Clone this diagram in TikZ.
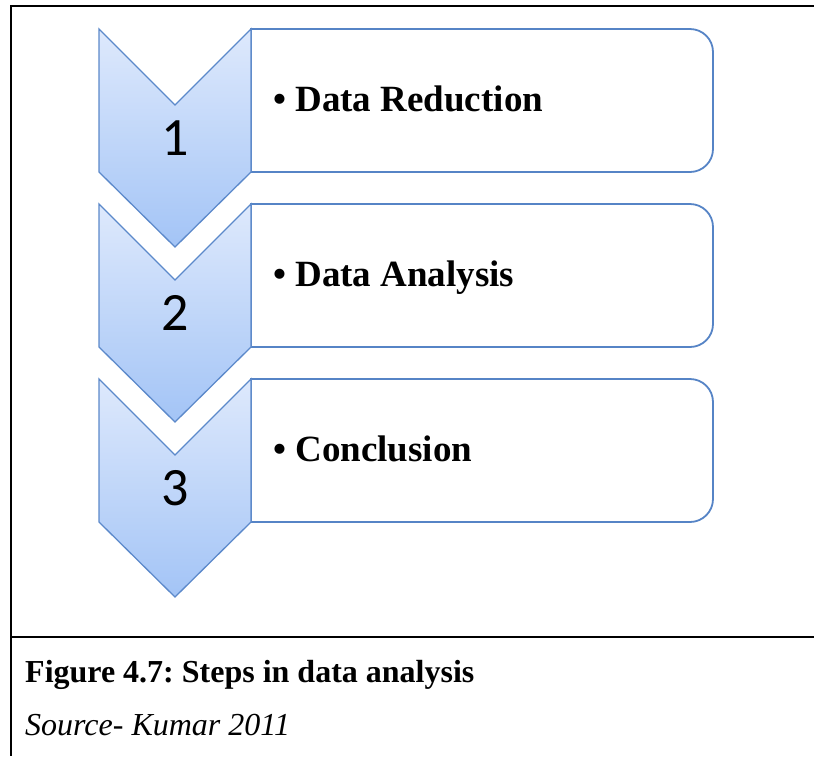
\documentclass[tikz,border=0pt]{standalone}
\usepackage{fontspec}
\setmainfont{Liberation Serif}
\newfontfamily\numfont{Carlito}
\definecolor{chevtop}{RGB}{222,233,252}
\definecolor{chevbot}{RGB}{163,196,246}
\definecolor{chevline}{RGB}{92,137,202}
\definecolor{boxline}{RGB}{86,132,198}
\frenchspacing

\begin{document}
\begin{tikzpicture}[x=1pt,y=1pt]
            \useasboundingbox (0,0) rectangle (814,-756);
            % frame of the figure
            \draw[line width=2pt] (814,-6) -- (11,-6) -- (11,-756);
            \draw[line width=2pt] (11,-637) -- (814,-637);
            \foreach \n/\t/\txt in {1/29/Data Reduction,2/204/Data Analysis,3/379/Conclusion}{
                \draw[boxline, line width=1.8pt, fill=white] (251,-\t) -- (690,-\t)
                    arc[start angle=90, end angle=0, radius=23] -- (713,-\t-120)
                    arc[start angle=0, end angle=-90, radius=23] -- (251,-\t-143) -- cycle;
                \shadedraw[top color=chevtop, bottom color=chevbot, draw=chevline, line width=1.3pt]
                    (99,-\t) -- (175,-\t-76) -- (251,-\t) -- (251,-\t-143)
                    -- (175,-\t-218) -- (99,-\t-143) -- cycle;
                \node[anchor=base, inner sep=0pt, font=\numfont\fontsize{54}{54}\selectfont] (num\n) at (175,-\t-126) {\n};
                \node[anchor=base west, inner sep=0pt, font=\bfseries\fontsize{37}{37}\selectfont] (step\n) at (273,-\t-82) {\textbullet\ \txt};
            }
            \node[anchor=base west, inner sep=0pt, font=\bfseries\fontsize{32}{32}\selectfont] (caption) at (25,-682) {Figure 4.7: Steps in data analysis};
            \node[anchor=base west, inner sep=0pt, font=\itshape\fontsize{32}{32}\selectfont] (source) at (25,-735) {Source- Kumar 2011};
        \end{tikzpicture}
\end{document}
